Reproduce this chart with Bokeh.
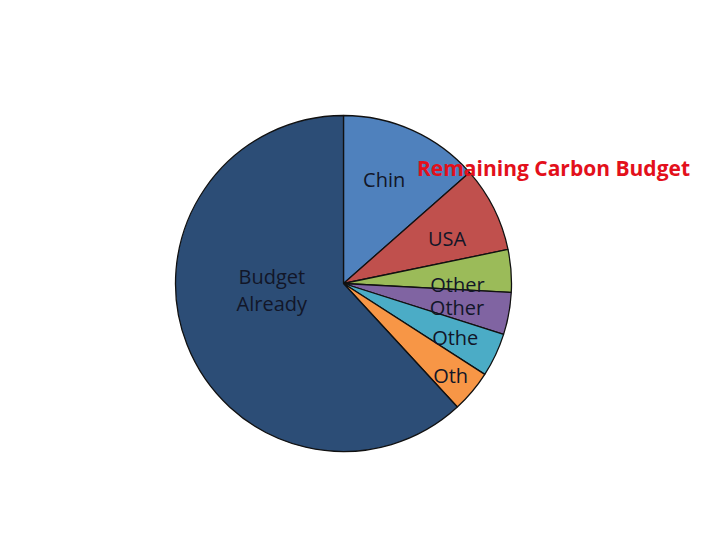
import math
from bokeh.plotting import figure
from bokeh.models import ColumnDataSource, Label
from bokeh.core.properties import value
from bokeh.embed import file_html
from bokeh.resources import INLINE

# ---- data ----
labels = ["Chin", "USA", "Other", "Other", "Othe", "Oth", "Budget\nAlready"]
shares = [13.5, 8.25, 4.1, 4.05, 4.2, 4.05, 61.85]
colors = ["#4F81BD", "#C0504D", "#9BBB59", "#8064A2", "#4BACC6", "#F79646", "#2C4D76"]
title_text = "Remaining Carbon Budget"

# ---- layout (pixels) ----
W, H = 704, 524
cx, cy, R = 343, 241, 168
label_r = [112, 113, 114, 116, 124, 141, 72]
label_shift_deg = [-3, 3, 5, 1.5, 0.5, 0.5, 16]

total = sum(shares)
starts, ends, lx, ly = [], [], [], []
cum = 0.0
for s, lr, sh in zip(shares, label_r, label_shift_deg):
    a0 = cum / total * 2 * math.pi
    cum += s
    a1 = cum / total * 2 * math.pi
    starts.append(math.pi / 2 - a0)
    ends.append(math.pi / 2 - a1)
    mid = (a0 + a1) / 2 + math.radians(sh)
    lx.append(cx + lr * math.sin(mid))
    ly.append(cy + lr * math.cos(mid))

src = ColumnDataSource(dict(start=starts, end=ends, color=colors,
                            label=labels, lx=lx, ly=ly))

p = figure(width=W, height=H, x_range=(0, W), y_range=(0, H),
           output_backend="svg", toolbar_location=None, min_border=0)
p.axis.visible = False
p.grid.visible = False
p.outline_line_color = None
p.background_fill_color = "white"
p.border_fill_color = "white"

p.wedge(x=cx, y=cy, radius=R, start_angle="start", end_angle="end",
        direction="clock", fill_color="color", line_color="#111111",
        line_width=1.3, source=src)

p.text(x="lx", y="ly", text="label", source=src,
       text_font=value("Open Sans"), text_font_size="20px",
       text_color="#121628", text_align="center", text_baseline="middle",
       text_line_height=1.0)

p.add_layout(Label(x=553, y=357, text=title_text, text_font="Open Sans",
                   text_font_size="21px", text_font_style="bold",
                   text_color="#E3101B", text_align="center",
                   text_baseline="middle"))

open("out.html", "w").write(file_html(p, INLINE))
